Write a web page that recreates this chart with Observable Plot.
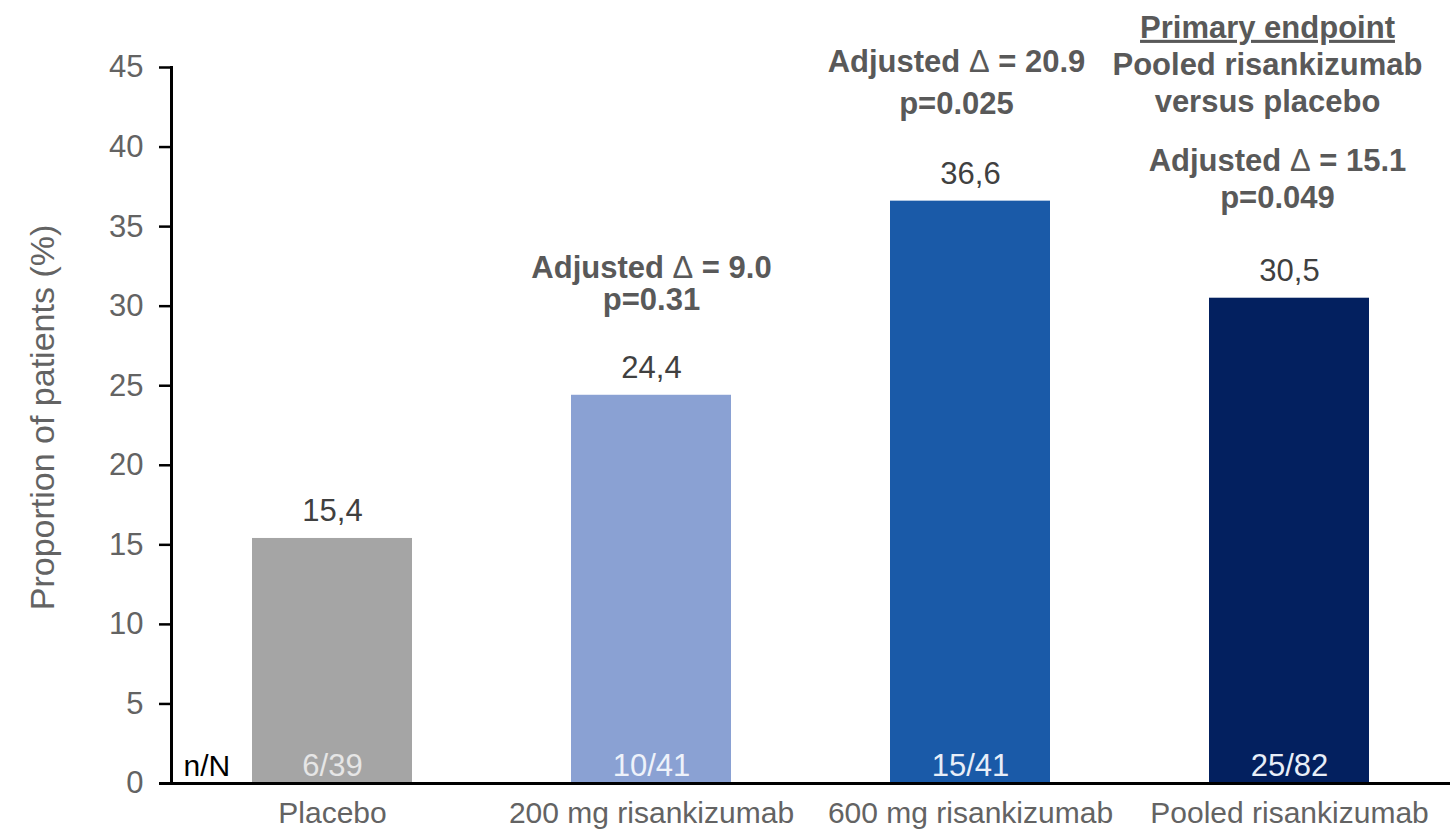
<!DOCTYPE html>
<html>
<head>
<meta charset="utf-8">
<script src="https://cdn.jsdelivr.net/npm/d3@7"></script>
<script src="https://cdn.jsdelivr.net/npm/@observablehq/plot@0.6"></script>
<style>
  html, body { margin: 0; padding: 0; background: #fff; }
  #chart svg { display: block; font-family: "Liberation Sans", Arial, sans-serif; }
</style>
</head>
<body>
<div id="chart"></div>
<script>
// ---- data ----
const categories = ["Placebo", "200 mg risankizumab", "600 mg risankizumab", "Pooled risankizumab"];
const values = [15.4, 24.4, 36.6, 30.5];
const valueLabels = ["15,4", "24,4", "36,6", "30,5"];
const fractions = ["6/39", "10/41", "15/41", "25/82"];
const yTicks = [0, 5, 10, 15, 20, 25, 30, 35, 40, 45];
const yLabel = "Proportion of patients (%)";
const nLabel = "n/N";
const annotCategories = ["200 mg risankizumab", "600 mg risankizumab", "Pooled risankizumab", "Pooled risankizumab"];
const annotTexts = [
  "Adjusted \u0394 = 9.0\np=0.31",
  "Adjusted \u0394 = 20.9\np=0.025",
  "Adjusted \u0394 = 15.1\np=0.049",
  "Primary endpoint\nPooled risankizumab\nversus placebo"
];

// ---- styles ----
const barColors = ["#a5a5a5", "#8aa1d3", "#1a5aa8", "#03205f"];
const fractionColors = ["#e6e6e6", "#eef2fa", "#e8eef8", "#e8eef8"];

const bars = categories.map((c, i) => ({category: c, value: values[i], label: valueLabels[i], fraction: fractions[i]}));
const valueOf = Object.fromEntries(categories.map((c, i) => [c, values[i]]));
// annotation layout: [dy above bar top (px), lineHeight, dx]
const annotLayout = [[-85, 1.05, 0], [-87, 1.35, -14], [-90, 1.2, -12], [-186, 1.2, -22]];
const annots = annotTexts.map((t, i) => ({category: annotCategories[i], text: t, value: valueOf[annotCategories[i]]}));

const marks = [
  Plot.barY(bars, {x: "category", y: "value", fill: (d, i) => barColors[i]}),
  Plot.ruleY([0], {stroke: "#000", strokeWidth: 3, insetLeft: -12}),
  Plot.frame({anchor: "left", stroke: "#000", strokeWidth: 3}),
  Plot.axisY({ticks: yTicks, tickSize: 12, strokeWidth: 2.5, stroke: "#000", text: null, label: null}),
  Plot.axisY({ticks: yTicks, tickSize: 0, tickPadding: 28, fill: "#636363", fontSize: 31, label: null, tickFormat: d => String(d)}),
  Plot.axisX({tickSize: 0, tickPadding: 18, fill: "#636363", fontSize: 30, label: null}),
  Plot.text([yLabel], {frameAnchor: "left", textAnchor: "middle", rotate: -90, dx: -128, dy: -8, fontSize: 34, fill: "#636363"}),
  Plot.text(bars, {x: "category", y: "value", text: "label", dy: -17, lineAnchor: "bottom", fontSize: 31, fill: "#404040"}),
  Plot.text(bars, {x: "category", y: 0, text: "fraction", dy: -8, lineAnchor: "bottom", fontSize: 31, fill: (d, i) => fractionColors[i]}),
  Plot.text([nLabel], {frameAnchor: "bottom-left", dx: 12, dy: -8, textAnchor: "start", lineAnchor: "bottom", fontSize: 30, fill: "#000"}),
  ...annots.map((a, i) => Plot.text([a], {
    x: "category", y: "value", text: "text",
    dy: annotLayout[i][0], dx: annotLayout[i][2], lineHeight: annotLayout[i][1],
    lineAnchor: "bottom", fontSize: 31, fontWeight: "bold", fill: "#595959"
  }))
];

const chart = Plot.plot({
  width: 1450,
  height: 836,
  marginLeft: 171,
  marginRight: 0,
  marginTop: 67,
  marginBottom: 53,
  style: {fontFamily: "'Liberation Sans', Arial, sans-serif", background: "#fff"},
  x: {domain: categories, paddingInner: 0.5, paddingOuter: 0.25, axis: null},
  y: {domain: [0, 45], axis: null},
  marks
});

// underline the heading line
d3.select(chart).selectAll("tspan, text").filter(function () {
  return this.textContent === "Primary endpoint" && this.childElementCount === 0;
}).attr("text-decoration", "underline");

// render the delta sign in regular weight, like the symbol glyph of the reference
d3.select(chart).selectAll("tspan").filter(function () {
  return this.childElementCount === 0 && this.textContent.includes("\u0394");
}).each(function () {
  const [before, after] = this.textContent.split("\u0394");
  const el = d3.select(this);
  el.text(null);
  el.append("tspan").text(before);
  el.append("tspan").attr("font-weight", "normal").text("\u0394");
  el.append("tspan").text(after);
});

document.getElementById("chart").appendChild(chart);
</script>
</body>
</html>
